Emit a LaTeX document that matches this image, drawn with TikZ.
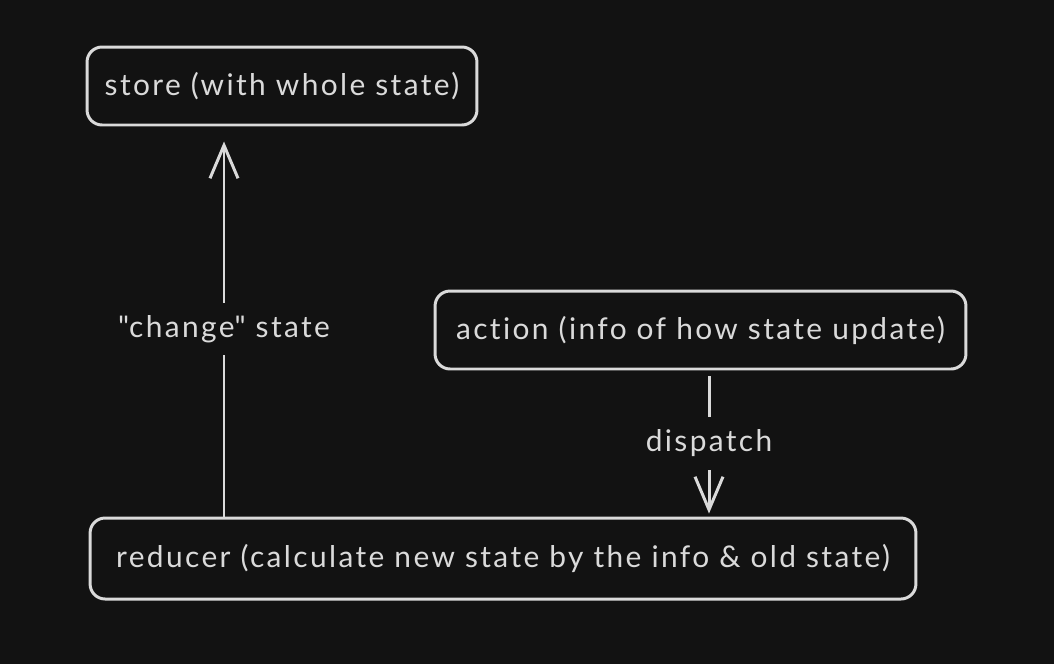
\documentclass[tikz,border=0pt]{standalone}
\usepackage{fontspec}
\setmainfont{Lato}[LetterSpace=8, Ligatures={NoCommon}]
\usepackage{xcolor}
\usetikzlibrary{arrows.meta}

\definecolor{bgdark}{HTML}{121212}
\definecolor{inkgray}{HTML}{DADADA}

\tikzset{
    box/.style={draw=inkgray, line width=1.7pt, rounded corners=0.3cm,
        text=inkgray, font=\fontsize{17}{20}\selectfont},
    flow/.style={draw=inkgray, line width=1.7pt,
        -{Straight Barb[length=0.66cm, width=0.56cm, line width=1.7pt]}},
    tag/.style={fill=bgdark, text=inkgray, inner xsep=0.1cm, inner ysep=0.25cm,
        font=\fontsize{17}{20}\selectfont},
}

\begin{document}
\begin{tikzpicture}[x=0.02cm, y=-0.02cm]
        \fill[bgdark] (0, 0) rectangle (1054, 664);
        \useasboundingbox (0, 0) rectangle (1054, 664);

        \node[box, minimum width=7.8cm, minimum height=1.56cm] (store) at (282, 86) {store (with whole state)};
        \node[box, minimum width=10.62cm, minimum height=1.56cm] (action) at (700.5, 330) {action (info of how state update)};
        \node[box, minimum width=16.52cm, minimum height=1.62cm] (reducer) at (503, 558.5) {reducer (calculate new state by the info \& old state)};

        \coordinate (upx) at (224, 0);
        \coordinate (downx) at (709, 0);

        \draw[flow, shorten >=15*0.02cm] (reducer.north -| upx) -- (store.south -| upx)
            node[tag, midway, yshift=-0.15cm] {\textquotedbl change\textquotedbl\ state};
        \draw[flow, shorten <=6*0.02cm, shorten >=3*0.02cm] (action.south -| downx) -- (reducer.north -| downx)
            node[tag, midway] {dispatch};
    \end{tikzpicture}
\end{document}
